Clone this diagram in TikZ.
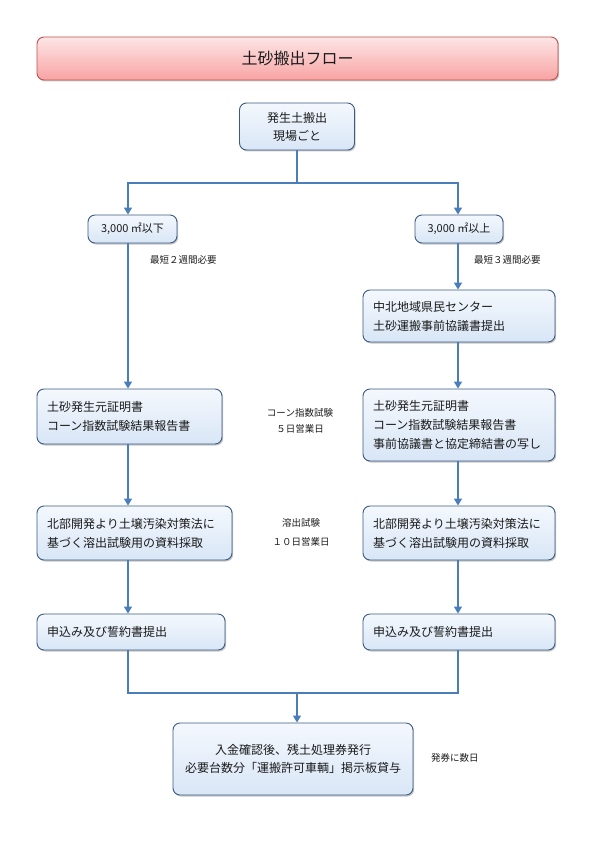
\documentclass[tikz,border=0pt]{standalone}
\usepackage{fontspec}
\setmainfont{Noto Sans CJK JP}
\usetikzlibrary{arrows.meta,shadows}
\definecolor{linecol}{HTML}{4A7EBB}
\definecolor{boxborder}{HTML}{3C5A82}
\definecolor{boxtop}{HTML}{F4F8FD}
\definecolor{boxbot}{HTML}{D8E6F6}
\definecolor{ttop}{HTML}{FDE6E6}
\definecolor{tbot}{HTML}{F8A3A3}
\definecolor{tborder}{HTML}{C0504D}
\definecolor{txt}{HTML}{1A1A1A}
\tikzset{
  box/.style={draw=boxborder, line width=0.9pt, rounded corners=7pt,
    top color=boxtop, bottom color=boxbot, text=txt,
    drop shadow={shadow xshift=1.2pt, shadow yshift=-1.5pt, opacity=0.45},
    inner xsep=10pt, inner ysep=0pt, font=\fontsize{12}{19}\selectfont},
  titlebox/.style={draw=tborder, line width=0.9pt, rounded corners=7pt,
    top color=ttop, bottom color=tbot, text=txt,
    drop shadow={shadow xshift=1.2pt, shadow yshift=-1.5pt, opacity=0.45},
    font=\fontsize{16}{20}\selectfont},
  note/.style={text=txt, inner sep=0pt, font=\fontsize{9.5}{16}\selectfont, align=center},
  conn/.style={draw=linecol, line width=1.5pt},
  arr/.style={-{Triangle[width=8pt,length=7pt]}},
}
\begin{document}
\begin{tikzpicture}[x=1pt,y=-1pt]
\useasboundingbox (0,0) rectangle (598,845);
\coordinate (cl) at (128,0);
\coordinate (cr) at (458,0);
\coordinate (merge) at (297,693);
\coordinate (split) at (297,183);

\node[titlebox, minimum width=521pt, minimum height=43pt] (title) at (297.5,58.5) {土砂搬出フロー};

\node[box, minimum width=115pt, minimum height=47pt, align=center, font=\fontsize{12}{18}\selectfont] (top) at (297,126.5) {発生土搬出\\現場ごと};

\node[box, minimum width=89pt, minimum height=28pt, inner xsep=2pt, font=\fontsize{11}{14}\selectfont] (lb) at (132.5,229) {3,000 ㎡以下};
\node[box, minimum width=88pt, minimum height=28pt, inner xsep=2pt, font=\fontsize{11}{14}\selectfont] (rb) at (459,229) {3,000 ㎡以上};

\node[note, anchor=west] (n1) at (150,260) {最短２週間必要};
\node[note, anchor=west] (n2) at (474,260) {最短３週間必要};

\node[box, minimum height=52pt, text width=172pt, align=left] (rc) at (459,316) {中北地域県民センター\\土砂運搬事前協議書提出};

\node[box, minimum height=55pt, text width=165pt, align=left] (ld) at (129.5,416.5) {土砂発生元証明書\\コーン指数試験結果報告書};
\node[box, minimum height=72pt, text width=172pt, align=left] (rd) at (459,425) {土砂発生元証明書\\コーン指数試験結果報告書\\事前協議書と協定締結書の写し};

\node[note] (n3) at (300,421) {コーン指数試験\\５日営業日};

\node[box, minimum height=54pt, text width=175pt, align=left] (le) at (134.5,533) {北部開発より土壌汚染対策法に\\基づく溶出試験用の資料採取};
\node[box, minimum height=54pt, text width=172pt, align=left] (re) at (459,533) {北部開発より土壌汚染対策法に\\基づく溶出試験用の資料採取};

\node[note, font=\fontsize{9.5}{19}\selectfont] (n4) at (301,532) {溶出試験\\１０日営業日};

\node[box, minimum height=36pt, text width=168pt, align=left] (lf) at (131,632) {申込み及び誓約書提出};
\node[box, minimum height=36pt, text width=172pt, align=left] (rf) at (459,632) {申込み及び誓約書提出};

\node[box, minimum width=240pt, minimum height=72pt, align=center, font=\fontsize{12}{18}\selectfont] (fin) at (293,759) {入金確認後、残土処理券発行\\必要台数分「運搬許可車輌」掲示板貸与};

\node[note, anchor=west] (n5) at (431,758) {発券に数日};

% connectors
\draw[conn] (top.south) -- (split);
\draw[conn,arr] (split) -| (lb.north -| cl);
\draw[conn,arr] (split) -| (rb.north -| cr);

\draw[conn,arr] (lb.south -| cl) -- (ld.north -| cl);
\draw[conn,arr] (ld.south -| cl) -- (le.north -| cl);
\draw[conn,arr] (le.south -| cl) -- (lf.north -| cl);

\draw[conn,arr] (rb.south -| cr) -- (rc.north -| cr);
\draw[conn,arr] (rc.south -| cr) -- (rd.north -| cr);
\draw[conn,arr] (rd.south -| cr) -- (re.north -| cr);
\draw[conn,arr] (re.south -| cr) -- (rf.north -| cr);

\draw[conn] (lf.south -| cl) |- (merge) -| (rf.south -| cr);
\draw[conn,arr] (merge) -- (fin.north -| merge);
\end{tikzpicture}
\end{document}
